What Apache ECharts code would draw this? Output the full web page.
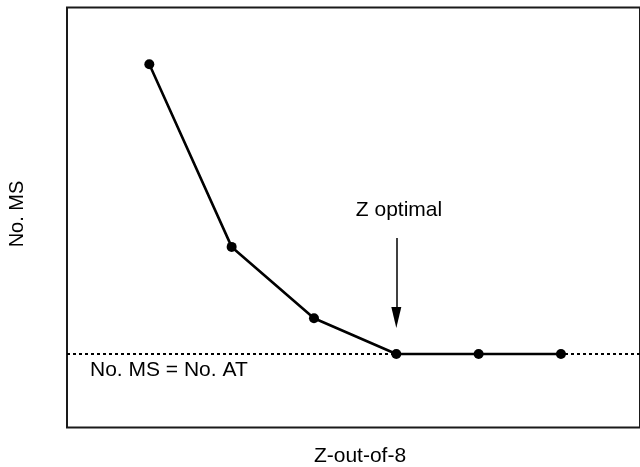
<!DOCTYPE html>
<html>
<head>
<meta charset="utf-8">
<script src="https://cdn.jsdelivr.net/npm/echarts@6/dist/echarts.min.js"></script>
<style>html,body{margin:0;padding:0;background:#fff}#c{width:640px;height:467px}</style>
</head>
<body>
<div id="c"></div>
<script>
const zValues = [1, 2, 3, 4, 5, 6];
const msValues = [8.65, 4.30, 2.60, 1.75, 1.75, 1.75];
const atLevel = 1.75;
const optimalZ = 4;
const arrowFrom = 4.51;
const arrowTo = 2.62;
const xLabel = 'Z-out-of-8';
const yLabel = 'No. MS';
const lineLabel = 'No. MS = No. AT';
const optLabel = 'Z optimal';

const font = '"Liberation Sans", Arial, sans-serif';
const chart = echarts.init(document.getElementById('c'), null, {renderer: 'canvas'});
chart.setOption({
  animation: false,
  backgroundColor: '#fff',
  grid: {left: 67, right: -3, top: 7.5, bottom: 39.5, show: true, borderColor: '#1a1a1a', borderWidth: 2, backgroundColor: 'transparent'},
  xAxis: {type: 'value', min: 0, max: 6.96, show: false},
  yAxis: {type: 'value', min: 0, max: 10, show: false},
  graphic: [
    {type: 'text', left: 90, top: 360, style: {text: lineLabel, font: '21px ' + font, fill: '#000'}},
    {type: 'text', x: 399, y: 210, style: {text: optLabel, font: '21px ' + font, fill: '#000', align: 'center', verticalAlign: 'middle'}},
    {type: 'text', x: 360, y: 456, style: {text: xLabel, font: '21px ' + font, fill: '#000', align: 'center', verticalAlign: 'middle'}},
    {type: 'text', x: 17, y: 214, rotation: Math.PI / 2, style: {text: yLabel, font: '20px ' + font, fill: '#000', align: 'center', verticalAlign: 'middle'}}
  ],
  series: [{
    type: 'line',
    data: zValues.map((z, i) => [z, msValues[i]]),
    symbol: 'circle',
    symbolSize: 10,
    itemStyle: {color: '#000'},
    lineStyle: {color: '#000', width: 2.6},
    z: 3,
    markLine: {
      silent: true,
      symbol: ['none', 'none'],
      label: {show: false},
      z: 2,
      data: [
        {yAxis: atLevel, lineStyle: {color: '#000', width: 2, type: [3, 3]}},
        [
          {coord: [optimalZ, arrowFrom], symbol: 'none', lineStyle: {color: '#000', width: 1.5, type: 'solid'}},
          {coord: [optimalZ, arrowTo], symbol: 'triangle', symbolSize: [10, 21]}
        ]
      ]
    }
  }]
});
</script>
</body>
</html>
